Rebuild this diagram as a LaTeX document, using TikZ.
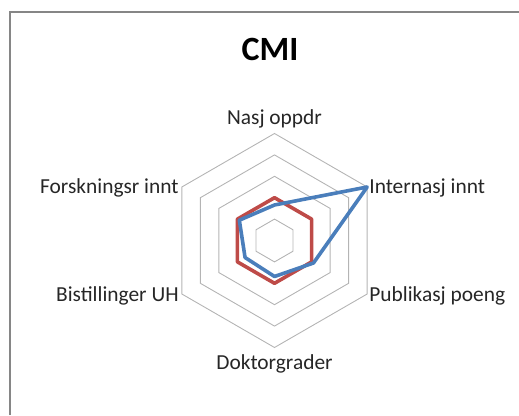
\documentclass[tikz,border=0pt]{standalone}
\usepackage{fontspec}
\setmainfont{Carlito}
\usetikzlibrary{calc}
\definecolor{gridc}{HTML}{B4B4B4}
\definecolor{framec}{HTML}{868686}
\definecolor{redc}{HTML}{BE4B48}
\definecolor{bluec}{HTML}{4A7EBB}
\tikzset{
  lbl/.style={font=\fontsize{21.4}{25}\selectfont, text=black!85, inner sep=1pt},
  gridline/.style={draw=gridc, line width=0.9pt},
  series/.style={line width=3.6pt, line join=round},
}
\begin{document}
\begin{tikzpicture}[x=1pt,y=1pt]
\useasboundingbox (0,0) rectangle (519,415);
\coordinate (C) at (274.5,174.5);
\coordinate (f1) at (10,0);
\coordinate (f2) at (10,403);
\coordinate (f3) at (519,403);
\draw[framec, line width=1.6pt] (f1) -- (f2) -- (f3);
\foreach \r in {1,...,5}{
  \draw[gridline, shift={(C)}] (90:\r*21.4) -- (30:\r*21.4) -- (-30:\r*21.4) -- (-90:\r*21.4) -- (-150:\r*21.4) -- (150:\r*21.4) -- cycle;
}
\foreach \a/\n in {90/a,30/b,-30/c,-90/d,-150/e,150/f}{
  \coordinate (v\n) at ($(C)+(\a:107)$);
}
% red series
\draw[series, redc, shift={(C)}] (90:42.8) -- (30:42.8) -- (-30:42.8) -- (-90:42.8) -- (-150:42.8) -- (150:42.8) -- cycle;
% blue series
\draw[series, bluec, shift={(C)}] (90:35.5) -- (30:107) -- (-30:45) -- (-90:36) -- (-150:34) -- (150:40.6) -- cycle;
\node[font=\fontsize{34}{40}\bfseries\selectfont] (title) at (270,366) {CMI};
\node[lbl, anchor=south] (na) at ($(va)+(0,4)$) {Nasj oppdr};
\node[lbl, anchor=west] (nb) at ($(vb)+(1,-0.5)$) {Internasj innt};
\node[lbl, anchor=west] (nc) at ($(vc)+(1,-2)$) {Publikasj poeng};
\node[lbl, anchor=north] (nd) at ($(vd)+(0,-6)$) {Doktorgrader};
\node[lbl, anchor=east] (ne) at ($(ve)+(-2,-2)$) {Bistillinger UH};
\node[lbl, anchor=east] (nf) at ($(vf)+(-2,-0.5)$) {Forskningsr innt};
\end{tikzpicture}
\end{document}
